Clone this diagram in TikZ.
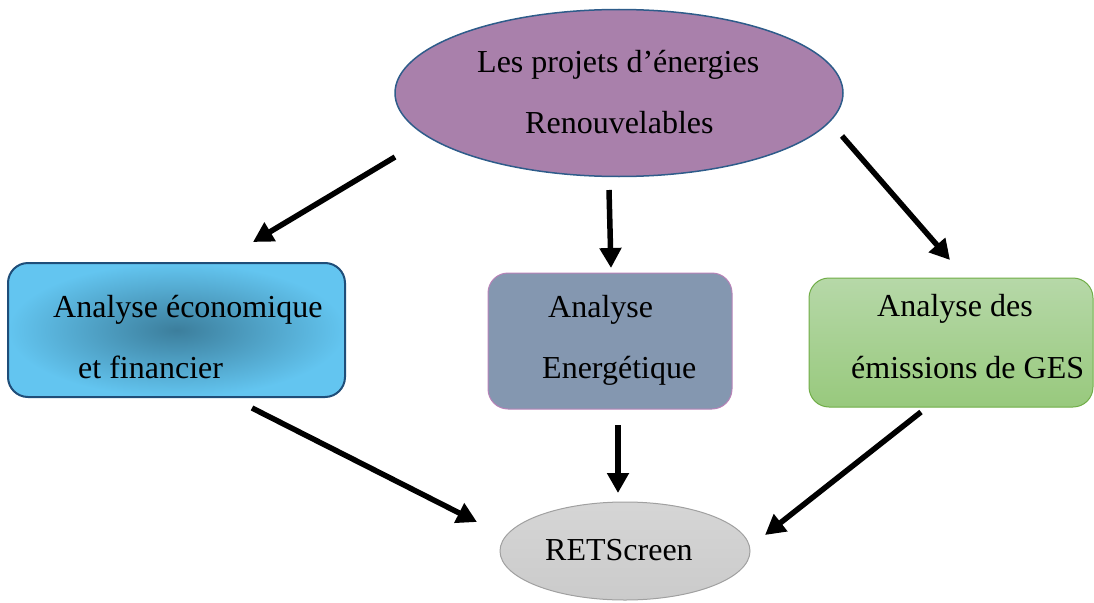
\documentclass[tikz,border=0pt]{standalone}
\usepackage{fontspec}
\setmainfont{Liberation Serif}
\usetikzlibrary{arrows.meta,shapes.geometric}
\definecolor{topfill}{HTML}{A980AB}
\definecolor{topdraw}{HTML}{2E5C8A}
\definecolor{leftout}{HTML}{63C5F0}
\definecolor{leftin}{HTML}{3C7E9C}
\definecolor{leftdraw}{HTML}{1F4E79}
\definecolor{midfill}{HTML}{8497B0}
\definecolor{middraw}{HTML}{B883B8}
\definecolor{righttop}{HTML}{B6D8A8}
\definecolor{rightbot}{HTML}{98C97D}
\definecolor{rightdraw}{HTML}{70AD47}
\definecolor{botfill}{HTML}{CBCBCB}
\definecolor{botdraw}{HTML}{A0A0A0}
\tikzset{
  txt/.style={anchor=base west,inner sep=0pt,font=\fontsize{32}{38}\selectfont},
  boxshape/.style={rectangle,rounded corners=20pt,inner sep=0pt},
  ellshape/.style={ellipse,inner sep=0pt},
  bigarrow/.style={line width=5.5pt,-{Triangle[length=20pt,width=21pt]}}
}
\begin{document}
\begin{tikzpicture}[x=1pt,y=-1pt]
\useasboundingbox (0,0) rectangle (1094,602);
% shapes
\node[ellshape,fill=topfill,draw=topdraw,line width=1.5pt,minimum width=448pt,minimum height=167pt] (top) at (619,93) {};
\node[boxshape,shading=radial,inner color=leftin,outer color=leftout,draw=leftdraw,line width=2pt,minimum width=337pt,minimum height=134pt] (left) at (176.5,330) {};
\node[boxshape,fill=midfill,draw=middraw,line width=1pt,minimum width=244pt,minimum height=136pt] (mid) at (610,341) {};
\node[boxshape,top color=righttop,bottom color=rightbot,draw=rightdraw,line width=1pt,minimum width=284pt,minimum height=129pt] (right) at (951,342.5) {};
\node[ellshape,top color=botfill!80!white,bottom color=botfill,draw=botdraw,line width=1pt,minimum width=250pt,minimum height=98pt] (bot) at (625,551) {};
% texts
\node[txt] (t1) at (477,73) {Les projets d’énergies};
\node[txt] (t2) at (525,133) {Renouvelables};
\node[txt] (l1) at (53,317) {Analyse économique};
\node[txt] (l2) at (78,378) {et financier};
\node[txt] (m1) at (548,317) {Analyse};
\node[txt] (m2) at (542,378) {Energétique};
\node[txt] (r1) at (877,316) {Analyse des};
\node[txt] (r2) at (851,378) {émissions de GES};
\node[txt] (b1) at (545,560) {RETScreen};
% arrow end points
\coordinate (a1s) at (395,157); \coordinate (a1e) at (253,242);
\coordinate (a2s) at (609,190); \coordinate (a2e) at (611,268);
\coordinate (a3s) at (842,136); \coordinate (a3e) at (950,260);
\coordinate (a4s) at (252,408); \coordinate (a4e) at (477,522);
\coordinate (a5s) at (618,425); \coordinate (a5e) at (618,493);
\coordinate (a6s) at (921,412); \coordinate (a6e) at (765,535);
\draw[bigarrow] (a1s) -- (a1e);
\draw[bigarrow] (a2s) -- (a2e);
\draw[bigarrow] (a3s) -- (a3e);
\draw[bigarrow] (a4s) -- (a4e);
\draw[bigarrow] (a5s) -- (a5e);
\draw[bigarrow] (a6s) -- (a6e);
\end{tikzpicture}
\end{document}
